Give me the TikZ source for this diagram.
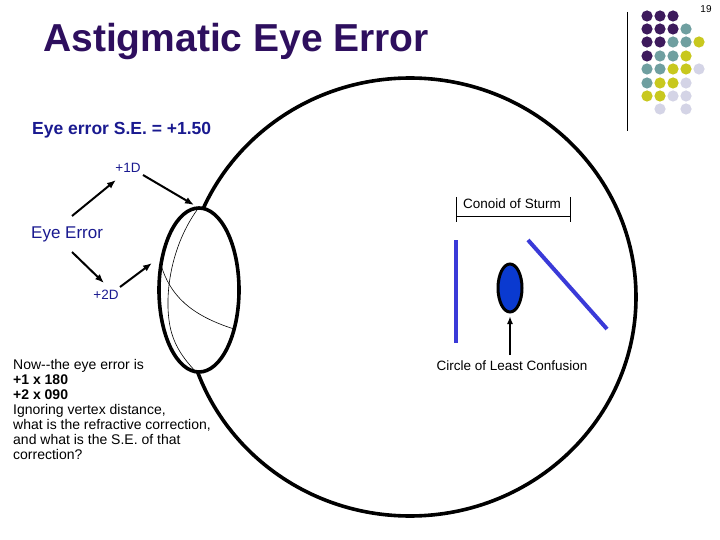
\documentclass[tikz,border=0pt]{standalone}
\usepackage{fontspec}
\usetikzlibrary{arrows.meta}
\setmainfont{Liberation Sans}
\definecolor{ttl}{HTML}{2E0F5E}
\definecolor{dblue}{HTML}{1A1A90}
\definecolor{lblue}{HTML}{3A3AD8}
\definecolor{oval}{HTML}{0A3AD0}
\definecolor{dP}{HTML}{3D1A5C}
\definecolor{dT}{HTML}{6F9FA0}
\definecolor{dY}{HTML}{C8C81E}
\definecolor{dL}{HTML}{D4D4E6}
\begin{document}
\begin{tikzpicture}[x=1pt,y=-1pt,
  arr/.style={-{Latex[length=9pt,width=7pt]},line width=2pt},
  thin/.style={line width=0.6pt},
  lbl/.style={inner sep=0pt,font=\fontsize{13.5}{15}\selectfont}]
\useasboundingbox (0,0) rectangle (720,540);
\fill[white] (0,0) rectangle (720,540);
% dots
\draw[line width=0.8pt] (627,12) coordinate (va) -- (627,131) coordinate (vb);
\foreach \row/\y in {{P,P,P}/16, {P,P,P,T}/29, {P,P,T,T,Y}/42, {P,T,T,Y}/56, {T,T,Y,Y,L}/69, {T,Y,Y,L}/83, {Y,Y,L,L}/96}{
  \foreach \c [count=\i from 0] in \row {\fill[d\c] (647+13*\i,\y) circle (5.6);}}
\fill[dL] (660,109) circle (5.6); \fill[dL] (686,109) circle (5.6);
\node[inner sep=0pt,font=\fontsize{10}{12}\selectfont] (pg) at (706,9) {19};
% title
\node[anchor=west,inner sep=0pt,text=ttl,font=\fontsize{39}{42}\bfseries] (title) at (43,42) {Astigmatic Eye Error};
% eye
\draw[line width=3.6pt] (410,297) ellipse [x radius=226,y radius=219];
\draw[line width=3.6pt,fill=white] (199,290) ellipse [x radius=40,y radius=82];
\draw[thin] (197,210) .. controls (172,245) and (165,290) .. (169,320) .. controls (172,345) and (185,360) .. (196,372);
\draw[thin] (161,265) .. controls (170,295) and (190,315) .. (234,329);
% labels
\node[anchor=west,lbl,text=dblue,font=\fontsize{17.5}{18}\bfseries] (se) at (32,130) {Eye error S.E. = +1.50};
\node[lbl,text=dblue] (d1) at (128,168) {+1D};
\node[anchor=west,lbl,text=dblue,font=\fontsize{17}{18}\selectfont] (ee) at (31,234) {Eye Error};
\node[lbl,text=dblue] (d2) at (106,295) {+2D};
\coordinate (l1) at (194,205); \coordinate (l2) at (152,263);
\draw[arr] (72,216) -- (116,180);
\draw[arr] (143,175) -- (l1);
\draw[arr] (72,252) -- (104,283);
\draw[arr] (120,287) -- (l2);
\node[anchor=north west,lbl,align=left,font=\fontsize{14}{15}\selectfont] (q) at (13,359) {Now{-}{-}the eye error is\\\textbf{+1 x 180}\\\textbf{+2 x 090}\\Ignoring vertex distance,\\what is the refractive correction,\\and what is the S.E. of that\\correction?};
% conoid
\draw[line width=0.8pt] (456,197) -- (456,222) (570,197) -- (570,222) (456,216) -- (570,216);
\node[lbl] (cs) at (512,204) {Conoid of Sturm};
\draw[lblue,line width=4pt] (456,240) -- (456,343);
\draw[lblue,line width=4pt] (528,240) -- (607,329);
\draw[line width=3pt,fill=oval] (510,288) ellipse [x radius=12,y radius=24];
\node[lbl] (clc) at (512,366) {Circle of Least Confusion};
\draw[-{Latex[length=8pt,width=6pt]},line width=2pt] (510,355) -- (510,316);
\end{tikzpicture}
\end{document}
